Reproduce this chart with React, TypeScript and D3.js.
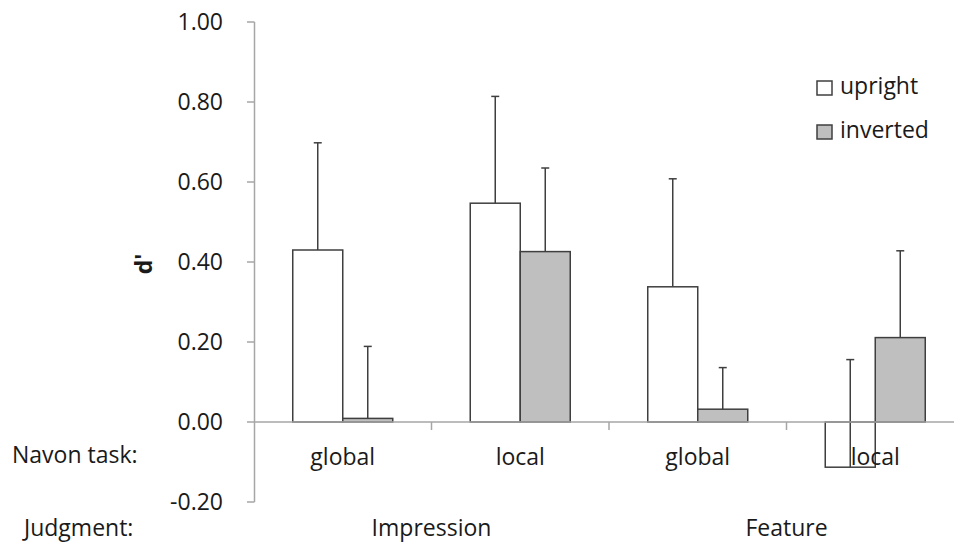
import * as d3 from "d3";

const tasks = ["global", "local", "global", "local"];
const taskKeys = ["imp-global", "imp-local", "feat-global", "feat-local"];
const judgments = ["Impression", "Feature"];
const seriesNames = ["upright", "inverted"];
const uprightValues = [0.43, 0.547, 0.338, -0.113];
const invertedValues = [0.009, 0.426, 0.032, 0.211];
const uprightErrors = [0.268, 0.267, 0.27, 0.269];
const invertedErrors = [0.18, 0.209, 0.104, 0.217];
const yTicks = [-0.2, 0, 0.2, 0.4, 0.6, 0.8, 1.0];

const W = 954;
const H = 543;
const FONT = "'Open Sans', 'Noto Sans', sans-serif";
const FS = 23;
const TXT = "#1a1a1a";
const AXIS = "#a6a6a6";
const EDGE = "#3f3f3f";
const fills = ["#ffffff", "#bfbfbf"];

export default function App() {
  const y = d3.scaleLinear().domain([-0.2, 1.0]).range([502, 22]);
  const x0 = d3
    .scaleBand()
    .domain(taskKeys)
    .range([254, 964])
    .paddingInner(0.4366)
    .paddingOuter(0.2183);
  const x1 = d3.scaleBand().domain(seriesNames).range([0, x0.bandwidth()]);
  const step = x0.step();

  const rows = taskKeys.map((k, i) => ({
    key: k,
    vals: [
      { s: "upright", v: uprightValues[i], e: uprightErrors[i] },
      { s: "inverted", v: invertedValues[i], e: invertedErrors[i] },
    ],
  }));

  // hyphen rather than unicode minus, like the original
  const fmt = (t: number) => d3.format(".2f")(t).replace("\u2212", "-");

  return (
    <svg width={W} height={H} style={{ position: "absolute", left: 0, top: 0, background: "#fff" }}>
      {/* y axis */}
      <line x1={254.5} x2={254.5} y1={y(1)} y2={y(-0.2)} stroke={AXIS} strokeWidth={1.5} />
      {yTicks.map((t) => (
        <g key={t}>
          <line x1={247} x2={254.5} y1={y(t)} y2={y(t)} stroke={AXIS} strokeWidth={1.5} />
          <text
            x={223}
            y={y(t)}
            dy="0.36em"
            textAnchor="end"
            fontFamily={FONT}
            fontSize={FS}
            fill={TXT}
          >
            {fmt(t)}
          </text>
        </g>
      ))}
      <text
        transform={`translate(152,264) rotate(-90)`}
        textAnchor="middle"
        fontFamily={FONT}
        fontSize={23}
        fontWeight="bold"
        fill={TXT}
      >
        d'
      </text>

      {/* bars */}
      {rows.map((r) => (
        <g key={r.key} transform={`translate(${x0(r.key)},0)`}>
          {r.vals.map((d, j) => {
            const bx = x1(d.s)!;
            const top = y(Math.max(0, d.v));
            const bot = y(Math.min(0, d.v));
            const cx = bx + x1.bandwidth() / 2;
            return (
              <g key={d.s}>
                <rect
                  x={bx}
                  y={top}
                  width={x1.bandwidth()}
                  height={bot - top}
                  fill={fills[j]}
                  stroke={EDGE}
                  strokeWidth={1.5}
                />
                <line x1={cx} x2={cx} y1={y(d.v)} y2={y(d.v + d.e)} stroke={EDGE} strokeWidth={1.5} />
                <line x1={cx - 4} x2={cx + 4} y1={y(d.v + d.e)} y2={y(d.v + d.e)} stroke={EDGE} strokeWidth={1.5} />
              </g>
            );
          })}
        </g>
      ))}

      {/* x axis */}
      <line x1={254} x2={W} y1={y(0)} y2={y(0)} stroke={AXIS} strokeWidth={1.5} />
      {taskKeys.slice(1).map((k) => (
        <line
          key={k}
          x1={x0(k)! - (step - x0.bandwidth()) / 2}
          x2={x0(k)! - (step - x0.bandwidth()) / 2}
          y1={y(0)}
          y2={y(0) + 8}
          stroke={AXIS}
          strokeWidth={1.5}
        />
      ))}
      {taskKeys.map((k, i) => (
        <text
          key={k}
          x={x0(k)! + x0.bandwidth() / 2}
          y={465}
          textAnchor="middle"
          fontFamily={FONT}
          fontSize={FS}
          fill={TXT}
        >
          {tasks[i]}
        </text>
      ))}
      {judgments.map((j, i) => (
        <text
          key={j}
          x={254 + step * (2 * i + 1)}
          y={536}
          textAnchor="middle"
          fontFamily={FONT}
          fontSize={FS}
          fill={TXT}
        >
          {j}
        </text>
      ))}
      <text x={12} y={463} fontFamily={FONT} fontSize={FS} fill={TXT}>
        Navon task:
      </text>
      <text x={24} y={536} fontFamily={FONT} fontSize={FS} fill={TXT}>
        Judgment:
      </text>

      {/* legend */}
      {seriesNames.map((s, i) => (
        <g key={s} transform={`translate(817,${81 + i * 44})`}>
          <rect x={0} y={0} width={15} height={14} fill={fills[i]} stroke={EDGE} strokeWidth={1.5} />
          <text x={23} y={13} fontFamily={FONT} fontSize={FS} fill={TXT}>
            {s}
          </text>
        </g>
      ))}
    </svg>
  );
}
